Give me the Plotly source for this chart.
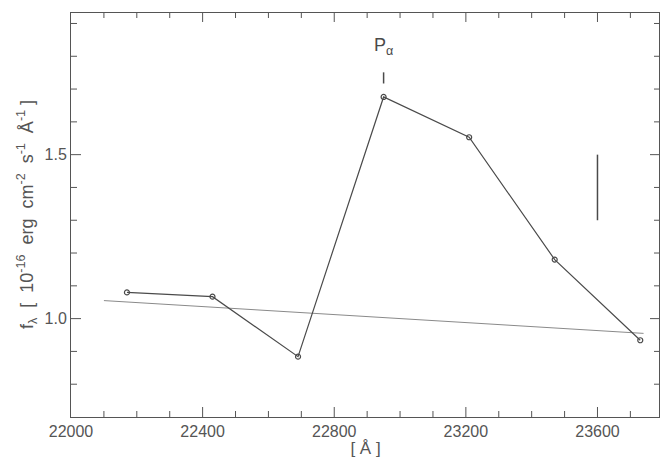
import numpy as np
import plotly.graph_objects as go

# data
wavelength = [22170, 22430, 22690, 22950, 23210, 23470, 23730]
flux = [1.08, 1.067, 0.884, 1.676, 1.553, 1.18, 0.934]
cont_x = [22100, 23740]
cont_y = [1.055, 0.955]
err_x = [23600]
err_lo = [1.3]
err_hi = [1.5]
line_x = 22950
line_label = "P<sub>α</sub>"
x_range = [22000, 23790]
y_range = [0.70, 1.935]
x_minor_step, x_major_step = 100, 400
y_minor_step, y_major_step = 0.1, 0.5

W, H = 663, 458
M = dict(l=71, r=3, t=12, b=41)

dark = "#4a4a4a"
axc = "#555"
fig = go.Figure()
fig.add_trace(go.Scatter(x=cont_x, y=cont_y, mode="lines",
                         line=dict(color="#8a8a8a", width=1), showlegend=False, hoverinfo="skip"))
fig.add_trace(go.Scatter(x=wavelength, y=flux, mode="lines+markers",
                         line=dict(color=dark, width=1.2),
                         marker=dict(symbol="circle-open", size=5, color=dark, line=dict(width=1.2)),
                         showlegend=False))
for x, lo, hi in zip(err_x, err_lo, err_hi):
    fig.add_trace(go.Scatter(x=[x, x], y=[lo, hi], mode="lines",
                             line=dict(color=dark, width=1.5), showlegend=False, hoverinfo="skip"))
fig.add_trace(go.Scatter(x=[line_x, line_x], y=[1.717, 1.751], mode="lines",
                         line=dict(color=dark, width=1.5), showlegend=False, hoverinfo="skip"))
fig.add_annotation(x=line_x, y=1.79, text=line_label, showarrow=False,
                   font=dict(family="Liberation Sans", size=18, color=dark), yanchor="bottom")

# axis furniture (inward ticks on all sides + top/right frame), derived from the axis settings
px_w = W - M["l"] - M["r"]
px_h = H - M["t"] - M["b"]
ux = (x_range[1] - x_range[0]) / px_w   # data units per pixel, x
uy = (y_range[1] - y_range[0]) / px_h   # data units per pixel, y

def tick_len(v, step, major_px=10, minor_px=6):
    q = v / step
    return major_px if abs(q - round(q)) < 1e-6 else minor_px

tx, ty = [], []
for v in np.arange(x_range[0] + x_minor_step, x_range[1], x_minor_step):
    L = tick_len(v, x_major_step) * uy
    tx += [v, v, None, v, v, None]
    ty += [y_range[0], y_range[0] + L, None, y_range[1], y_range[1] - L, None]
for v in np.arange(0.8, y_range[1], y_minor_step):
    L = tick_len(v, y_major_step) * ux
    tx += [x_range[0], x_range[0] + L, None, x_range[1], x_range[1] - L, None]
    ty += [v, v, None, v, v, None]
fig.add_trace(go.Scatter(x=tx, y=ty, mode="lines", line=dict(color=axc, width=1),
                         showlegend=False, hoverinfo="skip"))
fig.add_trace(go.Scatter(x=[x_range[0], x_range[1], x_range[1]], y=[y_range[1], y_range[1], y_range[0]],
                         mode="lines", line=dict(color=axc, width=2),
                         showlegend=False, hoverinfo="skip"))

fnt = dict(family="Liberation Sans", size=16, color="#555")
fig.update_xaxes(range=x_range, dtick=x_major_step, tick0=22000, tickformat="d", ticks="",
                 showgrid=False, zeroline=False, showline=True, linecolor=axc, linewidth=1,
                 tickfont=fnt,
                 title=dict(text="[ Å ]", font=dict(family="Liberation Sans", size=17, color="#555"), standoff=2))
fig.update_yaxes(range=y_range, dtick=y_major_step, tick0=0, tickformat=".1f", ticks="",
                 showgrid=False, zeroline=False, showline=True, linecolor=axc, linewidth=1,
                 tickfont=fnt,
                 title=dict(text="f<sub>λ</sub>  [  10<sup>-16</sup>  erg  cm<sup>-2</sup>  s<sup>-1</sup>  Å<sup>-1</sup> ]",
                            font=dict(family="Liberation Sans", size=18, color="#555"), standoff=6))
fig.update_layout(width=W, height=H, margin=dict(**M, autoexpand=False),
                  plot_bgcolor="white", paper_bgcolor="white",
                  font=dict(family="Liberation Sans", color="#555"))
fig.write_html("out.html")
